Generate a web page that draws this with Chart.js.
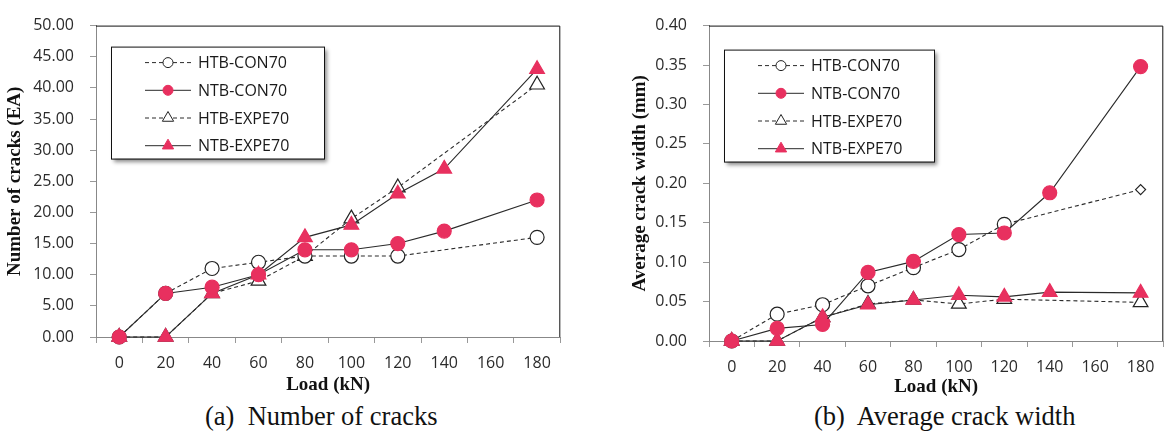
<!DOCTYPE html>
<html>
<head>
<meta charset="utf-8">
<script src="https://cdn.jsdelivr.net/npm/chart.js@4.4.0/dist/chart.umd.min.js"></script>
<style>
  body { margin:0; background:#fff; width:1173px; height:435px; position:relative; overflow:hidden; }
  canvas { position:absolute; top:0; }
  #chartCracks { left:0; }
  #chartWidth { left:580px; }
  .caption { position:absolute; top:401px; font-family:'Liberation Serif', serif; font-size:26.5px; color:#111; white-space:pre; line-height:30px; }
</style>
</head>
<body>
<canvas id="chartCracks" width="570" height="400"></canvas>
<canvas id="chartWidth" width="593" height="400"></canvas>
<div class="caption" style="left:205px">(a)  Number of cracks</div>
<div class="caption" style="left:814px">(b)  Average crack width</div>
<script>
// Data
var loads = ['0', '20', '40', '60', '80', '100', '120', '140', '160', '180'];
var seriesNames = ['HTB-CON70', 'NTB-CON70', 'HTB-EXPE70', 'NTB-EXPE70'];

// number of cracks (EA)
var cracksHtbCon = [0, 7, 11, 12, 13, 13, 13, null, null, 16];
var cracksNtbCon = [0, 7, 8, 10, 14, 14, 15, 17, null, 22];
var cracksHtbExpe = [0, 0, 7, 9, 13, 19, 24, null, null, 40.5];
var cracksNtbExpe = [0, 0, 7, 10, 16, 18, 23, 27, null, 43];

// average crack width (mm)
var widthHtbCon = [0, 0.034, 0.046, 0.070, 0.093, 0.116, 0.148, null, null, 0.192];
var widthNtbCon = [0, 0.016, 0.021, 0.087, 0.101, 0.135, 0.137, 0.188, null, 0.348];
var widthHtbExpe = [0, 0, 0.030, 0.047, 0.052, 0.047, 0.053, null, null, 0.049];
var widthNtbExpe = [0, 0, 0.030, 0.046, 0.052, 0.058, 0.056, 0.062, null, 0.061];

var red = '#E8305F';
var lineCol = '#2a2a2a';

function makeDatasets(values, lastDiamond) {
    var styles = [
        { dash: [4, 3], shape: 'circle', fill: '#fff', border: '#222', r: 7, order: 2 },
        { dash: [], shape: 'circle', fill: red, border: red, r: 7, order: 0 },
        { dash: [4, 3], shape: 'triangle', fill: '#fff', border: '#222', r: 8.5, order: 3 },
        { dash: [], shape: 'triangle', fill: red, border: red, r: 8.5, order: 1 }
    ];
    return values.map(function (v, i) {
        var s = styles[i];
        var shape = s.shape, radius = s.r;
        if (i === 0 && lastDiamond) {
            shape = v.map(function (x, k) { return k === v.length - 1 ? 'rectRot' : 'circle'; });
            radius = v.map(function (x, k) { return k === v.length - 1 ? 5 : s.r; });
        }
        return {
            label: seriesNames[i],
            data: v,
            borderColor: lineCol,
            borderWidth: 1.1,
            borderDash: s.dash,
            pointStyle: shape,
            pointRadius: radius,
            pointBackgroundColor: s.fill,
            pointBorderColor: s.border,
            pointBorderWidth: 1.2,
            legendShape: s.shape,
            legendRadius: s.shape === 'circle' ? 5 : 6.5,
            order: s.order,
            spanGaps: true,
            clip: false,
            tension: 0
        };
    });
}

// black frame on top and right of the plot
var framePlugin = {
    id: 'frame',
    beforeDatasetsDraw: function (chart) {
        var ctx = chart.ctx, a = chart.chartArea;
        ctx.save();
        ctx.strokeStyle = '#111';
        ctx.lineWidth = 1;
        ctx.beginPath();
        ctx.moveTo(a.left, a.top + 0.5);
        ctx.lineTo(a.right - 0.5, a.top + 0.5);
        ctx.lineTo(a.right - 0.5, a.bottom);
        ctx.stroke();
        ctx.restore();
    }
};

// boxed legend with line sample through the marker
var boxLegend = {
    id: 'boxLegend',
    afterDraw: function (chart, args, opts) {
        var ctx = chart.ctx, a = chart.chartArea;
        var x = a.left + opts.dx, y = a.top + opts.dy, w = opts.w, h = opts.h;
        ctx.save();
        ctx.shadowColor = 'rgba(0,0,0,0.45)';
        ctx.shadowBlur = 4;
        ctx.shadowOffsetX = 3;
        ctx.shadowOffsetY = 3;
        ctx.fillStyle = '#fff';
        ctx.fillRect(x, y, w, h);
        ctx.shadowColor = 'transparent';
        ctx.strokeStyle = '#111';
        ctx.lineWidth = 1;
        ctx.strokeRect(x + 0.5, y + 0.5, w, h);
        ctx.font = '16px "Open Sans"';
        ctx.textBaseline = 'middle';
        chart.data.datasets.forEach(function (ds, i) {
            var ry = y + 16 + i * 27.7;
            ctx.strokeStyle = lineCol;
            ctx.setLineDash(ds.borderDash);
            ctx.beginPath();
            ctx.moveTo(x + 34, ry);
            ctx.lineTo(x + 80, ry);
            ctx.stroke();
            ctx.setLineDash([]);
            ctx.fillStyle = ds.pointBackgroundColor;
            ctx.strokeStyle = ds.pointBorderColor;
            Chart.helpers.drawPoint(ctx, { pointStyle: ds.legendShape, radius: ds.legendRadius, borderWidth: 1, rotation: 0 }, x + 57, ry);
            ctx.fillStyle = '#1a1a1a';
            ctx.fillText(ds.label, x + 87, ry + 1);
        });
        ctx.restore();
    }
};

function makeOptions(cfg) {
    var tickFont = { family: 'Open Sans', size: 16 };
    var titleFont = { family: 'Liberation Serif', size: 19, weight: 'bold' };
    return {
        responsive: false,
        animation: false,
        layout: { padding: { top: cfg.padTop, right: cfg.padRight, left: 0, bottom: 0 } },
        plugins: {
            legend: { display: false },
            tooltip: { enabled: false },
            boxLegend: { dx: 15, dy: cfg.legendDy, w: cfg.legendW, h: 112 }
        },
        scales: {
            x: {
                offset: true,
                ticks: { font: tickFont, color: '#2b2b2b', padding: 11, maxRotation: 0, autoSkip: false },
                grid: { drawOnChartArea: false, tickLength: 6, color: '#999', offset: true },
                border: { color: '#888' },
                title: { display: true, text: 'Load (kN)', font: titleFont, color: '#111', padding: { top: 0, bottom: cfg.xTitlePad } },
                afterFit: function (s) { s.height = cfg.xHeight; }
            },
            y: {
                min: 0,
                max: cfg.yMax,
                ticks: { stepSize: cfg.yStep, font: tickFont, color: '#2b2b2b', padding: 16, callback: function (v) { return v.toFixed(2); } },
                grid: { drawOnChartArea: false, tickLength: 6, color: '#999' },
                border: { color: '#888' },
                title: { display: true, text: cfg.yTitle, font: titleFont, color: '#111', padding: { top: cfg.yTitlePad, bottom: 0 } },
                afterFit: function (s) { s.width = cfg.yWidth; }
            }
        }
    };
}

new Chart(document.getElementById('chartCracks').getContext('2d'), {
    type: 'line',
    data: { labels: loads, datasets: makeDatasets([cracksHtbCon, cracksNtbCon, cracksHtbExpe, cracksNtbExpe], false) },
    options: makeOptions({ padTop: 13, padRight: 6, yWidth: 96, xHeight: 63, yMax: 50, yStep: 5,
        yTitle: 'Number of cracks (EA)', yTitlePad: 4, xTitlePad: 4, legendDy: 21, legendW: 213 }),
    plugins: [framePlugin, boxLegend]
});

new Chart(document.getElementById('chartWidth').getContext('2d'), {
    type: 'line',
    data: { labels: loads, datasets: makeDatasets([widthHtbCon, widthNtbCon, widthHtbExpe, widthNtbExpe], true) },
    options: makeOptions({ padTop: 11, padRight: 2, yWidth: 129, xHeight: 59, yMax: 0.4, yStep: 0.05,
        yTitle: 'Average crack width (mm)', yTitlePad: 49, xTitlePad: 2, legendDy: 24, legendW: 210 }),
    plugins: [framePlugin, boxLegend]
});
</script>
</body>
</html>
